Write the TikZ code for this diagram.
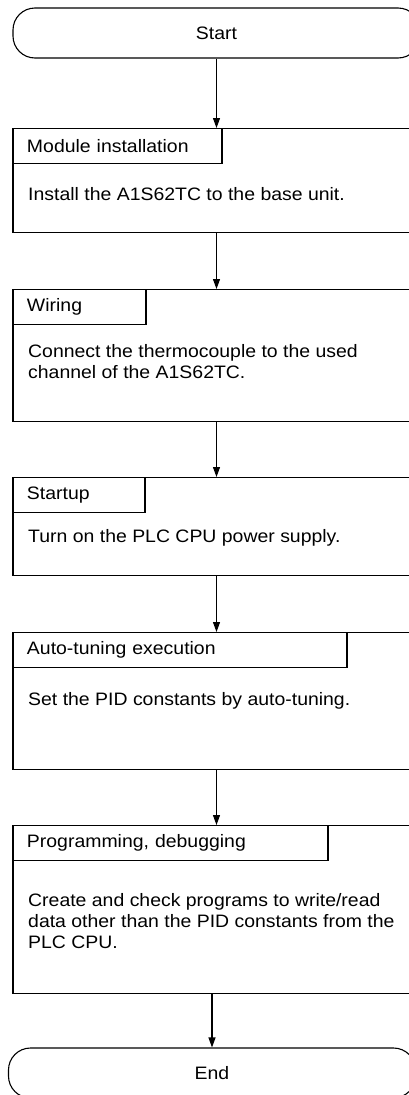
\documentclass[tikz,border=0pt]{standalone}
\usepackage{fontspec}
\setmainfont[FakeStretch=1.08]{Liberation Sans}
\usetikzlibrary{arrows.meta}
\tikzset{
  terminal/.style={draw, line width=1.1pt, rounded corners=22pt, minimum width=407pt, minimum height=50pt, inner sep=0pt},
  stepbox/.style={draw, line width=1.1pt, minimum width=407pt, inner sep=0pt, anchor=north},
  tab/.style={draw, line width=1.1pt, anchor=north west, minimum height=35pt, inner xsep=14pt, inner ysep=0pt, align=left},
  body/.style={anchor=base west, inner sep=0pt, align=left},
  flow/.style={line width=1.1pt, -{Triangle[length=10pt,width=7pt]}}
}
\begin{document}
\begin{tikzpicture}[x=1pt, y=1pt, every node/.style={font=\fontsize{18}{21}\selectfont}]
    \useasboundingbox (0,0) rectangle (409,-1095);
    % Terminali
    \node[terminal] (start) at (216.5,-33) {Start};
    \node[terminal] (end) at (212,-1073) {End};
    % Riquadri delle fasi
    \node[stepbox, minimum height=104pt] (s1) at (216.5,-128) {};
    \node[stepbox, minimum height=132pt] (s2) at (216.5,-289) {};
    \node[stepbox, minimum height=98pt] (s3) at (216.5,-477) {};
    \node[stepbox, minimum height=137pt] (s4) at (216.5,-632) {};
    \node[stepbox, minimum height=168pt] (s5) at (216.5,-825) {};
    % Titoli
    \node[tab, text width=181pt] (h1) at (s1.north west) {Module installation};
    \node[tab, text width=105pt] (h2) at (s2.north west) {Wiring};
    \node[tab, text width=104pt] (h3) at (s3.north west) {Startup};
    \node[tab, text width=306pt] (h4) at (s4.north west) {Auto-tuning execution};
    \node[tab, text width=287pt] (h5) at (s5.north west) {Programming, debugging};
    % Testi (base = ultima riga)
    \node[body] (b1) at (28,-200) {Install the A1S62TC to the base unit.};
    \node[body] (b2) at (28,-378) {Connect the thermocouple to the used\\channel of the A1S62TC.};
    \node[body] (b3) at (28,-542) {Turn on the PLC CPU power supply.};
    \node[body] (b4) at (28,-705) {Set the PID constants by auto-tuning.};
    \node[body] (b5) at (28,-948) {Create and check programs to write/read\\data other than the PID constants from the\\PLC CPU.};
    % Frecce
    \foreach \a/\b in {start/s1, s1/s2, s2/s3, s3/s4, s4/s5} {
      \draw[flow] (\a) -- (\b);
    }
    \draw[flow] (s5.south -| end.north) -- (end.north);
  \end{tikzpicture}
\end{document}
